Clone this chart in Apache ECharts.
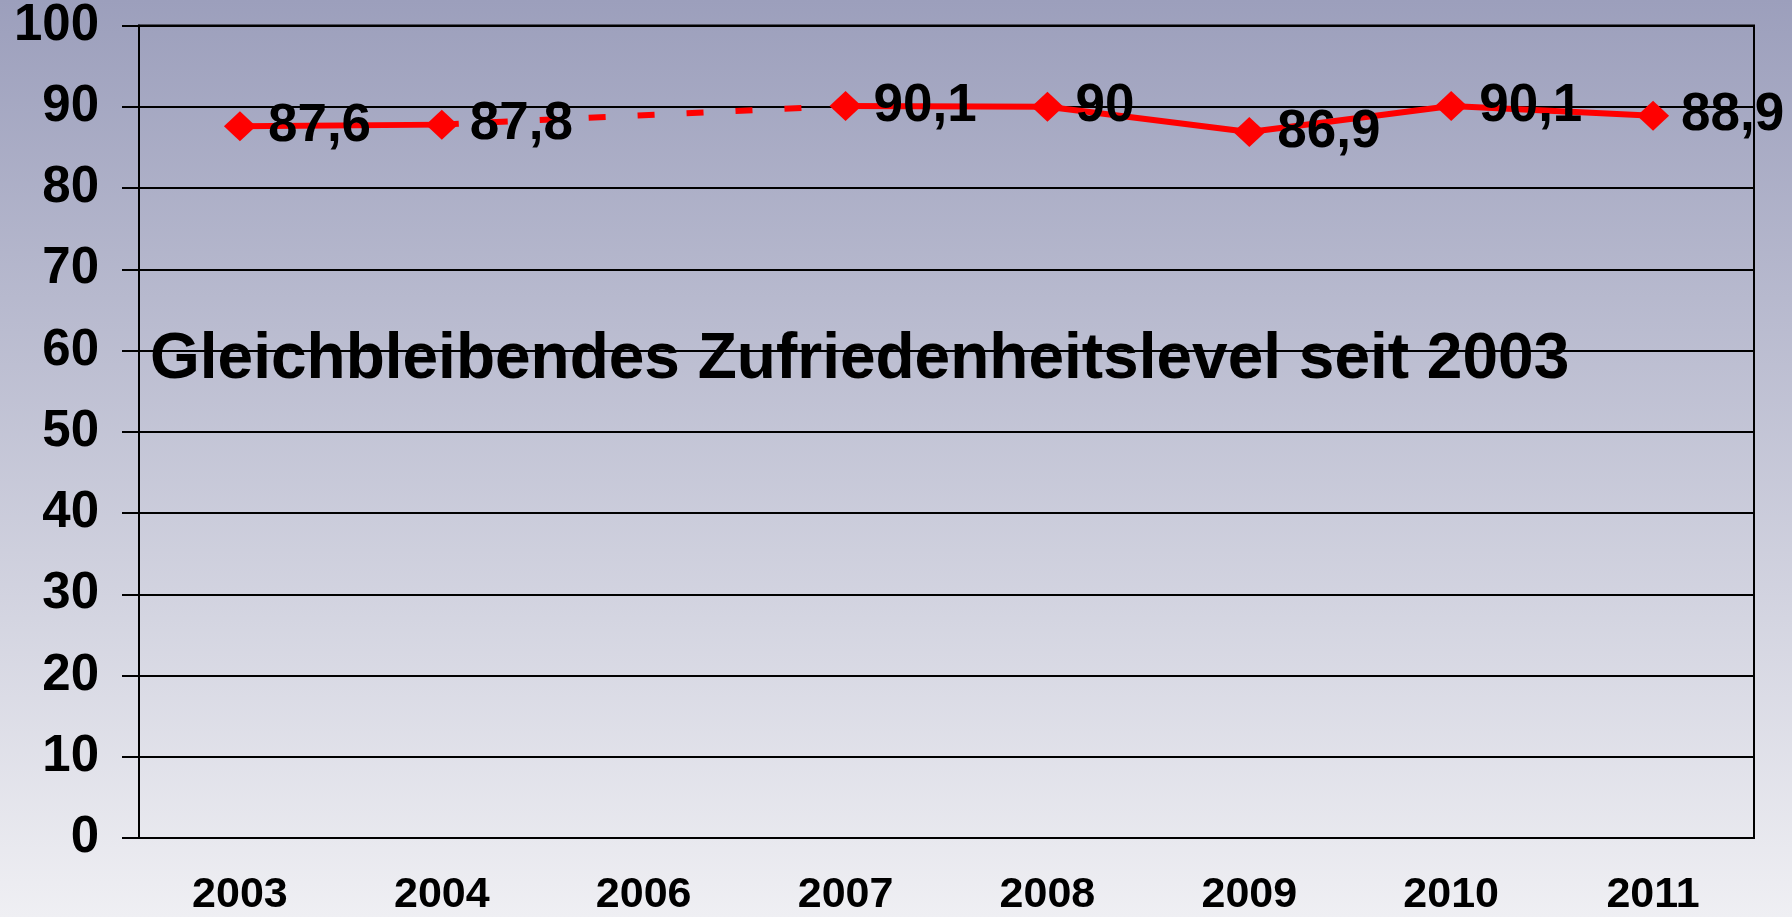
<!DOCTYPE html>
<html>
<head>
<meta charset="utf-8">
<title>Zufriedenheitslevel</title>
<script src="https://cdn.jsdelivr.net/npm/echarts@6/dist/echarts.min.js"></script>
<style>
  html, body { margin: 0; padding: 0; }
  #chart { width: 1792px; height: 917px; }
</style>
</head>
<body>
<div id="chart"></div>
<script>
// Jahre (2005 fehlt in der Erhebung)
var years = ['2003', '2004', '2006', '2007', '2008', '2009', '2010', '2011'];
// Zufriedenheit in %, 2006 ohne Wert
var values = [87.6, 87.8, null, 90.1, 90, 86.9, 90.1, 88.9];
var yTicks = [0, 10, 20, 30, 40, 50, 60, 70, 80, 90, 100];
var headline = 'Gleichbleibendes Zufriedenheitslevel seit 2003';

// gestrichelte Verbindung über die Lücke
var bridge = values.map(function () { return null; });
for (var i = 0; i < values.length; i++) {
    if (values[i] == null) {
        var a = i - 1, b = i + 1;
        while (b < values.length && values[b] == null) b++;
        if (a >= 0 && b < values.length) {
            bridge[a] = values[a];
            bridge[b] = values[b];
        }
    }
}

var myChart = echarts.init(document.getElementById('chart'));
var font = '"Liberation Sans", Arial, sans-serif';

var option = {
    backgroundColor: {
        type: 'linear', x: 0, y: 0, x2: 0, y2: 1,
        colorStops: [
            {offset: 0, color: '#9c9fbc'},
            {offset: 1, color: '#efeff3'}
        ]
    },
    animation: false,
    title: {
        text: headline,
        left: 150,
        top: 328,
        padding: 0,
        textStyle: {
            color: '#000',
            fontFamily: font,
            fontWeight: 'bold',
            fontSize: 64
        }
    },
    grid: {
        left: 139,
        right: 38,
        top: 25,
        bottom: 75,
        show: true,
        borderColor: '#000',
        borderWidth: 2
    },
    xAxis: {
        type: 'category',
        data: years,
        boundaryGap: true,
        axisLine: {lineStyle: {color: '#000', width: 2}},
        axisTick: {length: 14, lineStyle: {color: '#000', width: 2}},
        axisLabel: {
            margin: 36,
            color: '#000',
            fontFamily: font,
            fontWeight: 'bold',
            fontSize: 43
        }
    },
    yAxis: {
        type: 'value',
        min: yTicks[0],
        max: yTicks[yTicks.length - 1],
        interval: yTicks[1] - yTicks[0],
        axisLine: {show: true, lineStyle: {color: '#000', width: 2}},
        axisTick: {show: true, length: 17, lineStyle: {color: '#000', width: 2}},
        splitLine: {lineStyle: {color: '#000', width: 2}},
        axisLabel: {
            margin: 40,
            color: '#000',
            fontFamily: font,
            fontWeight: 'bold',
            fontSize: 51
        }
    },
    series: [
        {
            type: 'line',
            data: bridge,
            connectNulls: true,
            showSymbol: false,
            symbol: 'none',
            silent: true,
            z: 1,
            lineStyle: {color: '#ff0000', width: 6, type: [17, 32]}
        },
        {
            type: 'line',
            data: values,
            connectNulls: false,
            symbol: 'diamond',
            symbolSize: [32, 30],
            z: 2,
            itemStyle: {color: '#ff0000'},
            lineStyle: {color: '#ff0000', width: 6},
            label: {
                show: true,
                position: 'right',
                distance: 12,
                color: '#000',
                fontFamily: font,
                fontWeight: 'bold',
                fontSize: 53,
                formatter: function (p) {
                    return String(p.value).replace('.', ',');
                }
            }
        }
    ]
};

myChart.setOption(option);
window.addEventListener('resize', function () {
    myChart.resize();
});
</script>
</body>
</html>
